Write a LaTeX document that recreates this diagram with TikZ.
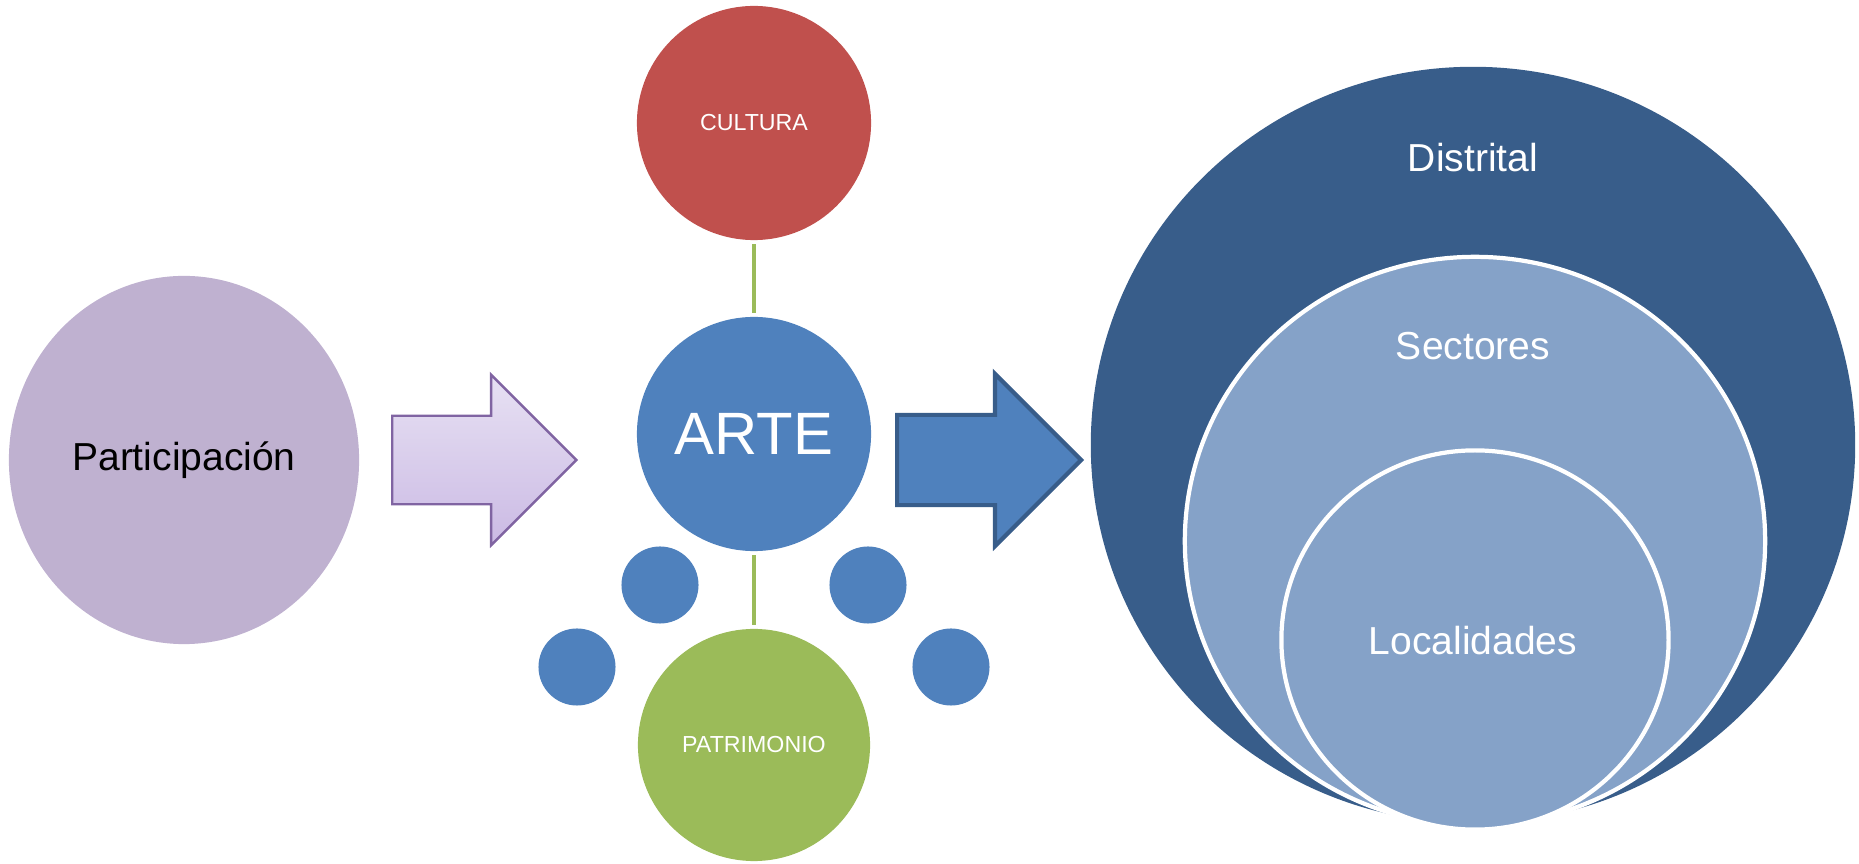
\documentclass[tikz,border=0pt]{standalone}
\usepackage{fontspec}
\setmainfont{Liberation Sans}
\usetikzlibrary{shapes.geometric,shapes.arrows}

\definecolor{lila}{RGB}{191,177,208}
\definecolor{lilaborde}{RGB}{128,100,162}
\definecolor{lilaclaro}{RGB}{231,225,243}
\definecolor{lilaoscuro}{RGB}{203,186,228}
\definecolor{rojo}{RGB}{192,80,77}
\definecolor{azul}{RGB}{79,129,189}
\definecolor{azulborde}{RGB}{56,93,138}
\definecolor{verde}{RGB}{155,187,89}
\definecolor{celeste}{RGB}{133,162,200}

\tikzset{
  bola/.style={circle, inner sep=0pt, text=white},
  flecha/.style={single arrow, single arrow tip angle=90, single arrow head extend=0.41cm,
    minimum height=1.84cm, minimum width=1.68cm, inner xsep=0pt, inner ysep=0.43cm, anchor=tail},
  enlace/.style={verde, line width=1.4pt, shorten <=1pt, shorten >=1pt},
  rotulo/.style={text=white, anchor=base, font=\fontsize{11.1}{13}\selectfont}
}

\begin{document}
\begin{tikzpicture}[x=0.01cm, y=-0.01cm]
    \useasboundingbox (0,0) rectangle (1859,864);
    % izquierda
    \node[ellipse, fill=lila, inner sep=0pt, minimum width=3.5cm, minimum height=3.68cm,
      font=\fontsize{11.1}{13}\selectfont] (part) at (184,460) {Participación};
    \node[flecha, draw=lilaborde, line width=0.7pt, top color=lilaclaro, bottom color=lilaoscuro] (f1) at (391,460) {};
    % centro
    \node[bola, fill=rojo, minimum size=2.34cm, font=\fontsize{6.6}{8}\selectfont] (cultura) at (754,123) {CULTURA};
    \node[bola, fill=azul, minimum size=2.34cm, font=\fontsize{17}{20}\selectfont] (arte) at (754,434) {ARTE};
    \node[bola, fill=verde, minimum size=2.32cm, font=\fontsize{6.6}{8}\selectfont] (patrimonio) at (754,745) {PATRIMONIO};
    \node[bola, fill=azul, minimum size=0.77cm] (b1) at (660,585) {};
    \node[bola, fill=azul, minimum size=0.77cm] (b2) at (868,585) {};
    \node[bola, fill=azul, minimum size=0.77cm] (b3) at (577,667) {};
    \node[bola, fill=azul, minimum size=0.77cm] (b4) at (951,667) {};
    \draw[enlace] (cultura) -- (arte);
    \draw[enlace] (arte) -- (patrimonio);
    \node[flecha, fill=azul, draw=azulborde, line width=1.2pt] (f2) at (895,460) {};
    % derecha
    \node[ellipse, fill=azulborde, inner sep=0pt, minimum width=7.64cm, minimum height=7.56cm] (distrital) at (1473,445) {};
    \node[ellipse, fill=celeste, draw=white, line width=1.2pt, inner sep=0pt,
      minimum width=5.8cm, minimum height=5.68cm] (sectores) at (1475,541) {};
    \node[ellipse, fill=celeste, draw=white, line width=1.2pt, inner sep=0pt,
      minimum width=3.87cm, minimum height=3.79cm] (localidades) at (1475,640) {};
    \node[rotulo] (tdistrital) at (1473,172) {Distrital};
    \node[rotulo] (tsectores) at (1473,360) {Sectores};
    \node[rotulo] (tlocalidades) at (1473,655) {Localidades};
\end{tikzpicture}
\end{document}
